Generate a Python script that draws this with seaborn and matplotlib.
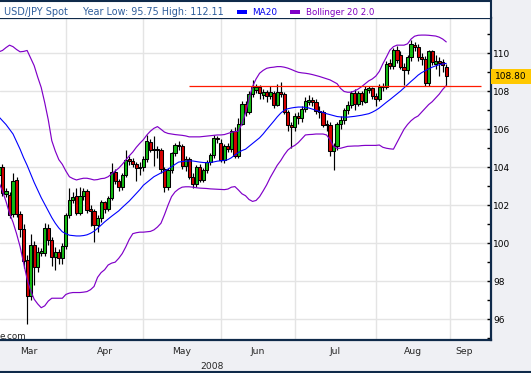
import numpy as np
import pandas as pd
import matplotlib
matplotlib.use('Agg')
import matplotlib.pyplot as plt
import matplotlib.transforms as mtransforms
from matplotlib.patches import Rectangle
from matplotlib.lines import Line2D
import seaborn as sns

# USD/JPY daily candles, weekdays 5 Mar - 29 Aug 2008
dates = pd.bdate_range('2008-03-05', '2008-08-29')

# each list grouped by month: Mar | Apr | May | Jun | Jul | Aug
open_ = [103.6, 104.0, 102.6, 102.55, 101.55, 103.35, 101.55, 100.75, 99.1, 97.2, 99.9, 98.75, 99.5, 99.5, 100.8, 100.15, 99.25, 99.55, 99.2,
         99.85, 101.5, 102.3, 102.5, 101.6, 102.5, 102.75, 101.8, 101.7, 100.95, 101.3, 102.15, 101.8, 102.4, 103.75, 103.25, 102.95, 103.6, 104.4, 104.35, 104.15, 103.95,
         104.0, 104.42, 105.35, 104.9, 104.95, 104.9, 103.9, 102.95, 103.85, 104.75, 105.15, 105.1, 104.05, 104.45, 103.5, 103.1, 104.0, 103.35, 103.85, 104.3, 104.65, 105.55,
         105.3, 104.4, 105.1, 104.95, 105.9, 104.6, 106.3, 107.35, 106.9, 107.85, 108.05, 108.25, 107.8, 107.95, 107.75, 107.9, 107.3, 107.95, 107.85, 106.9, 106.2,
         106.1, 106.7, 106.6, 107.05, 107.45, 107.55, 107.45, 106.95, 106.9, 106.3, 106.25, 104.85, 105.1, 106.3, 106.5, 107.0, 107.3, 107.9, 107.35, 107.9, 107.45, 108.05, 108.15,
         107.75, 107.6, 108.2, 108.25, 109.5, 109.35, 110.15, 109.9, 109.3, 109.1, 109.8, 110.45, 110.35, 109.8, 109.7, 108.45, 110.1, 109.45, 109.6, 109.55, 109.3]
high = [104.3, 104.15, 102.9, 102.7, 103.7, 103.5, 101.7, 101.0, 99.4, 100.5, 100.1, 99.8, 99.75, 101.05, 101.0, 100.3, 99.8, 99.7, 100.0,
        101.6, 102.9, 102.7, 102.9, 102.95, 102.9, 102.85, 102.0, 101.8, 101.5, 102.3, 102.2, 102.5, 104.2, 103.9, 103.4, 103.7, 104.9, 104.6, 104.5, 104.3, 104.3,
        104.6, 105.7, 105.5, 105.65, 105.1, 105.0, 104.0, 103.95, 104.8, 105.3, 105.4, 105.2, 104.6, 104.55, 103.7, 104.1, 104.15, 103.95, 104.4, 104.75, 105.7, 105.65,
        105.5, 105.2, 105.3, 106.0, 106.1, 106.6, 107.5, 107.5, 108.0, 108.6, 108.4, 108.35, 108.1, 108.05, 108.3, 108.0, 108.4, 108.5, 107.95, 107.0, 106.4,
        106.85, 106.9, 107.2, 107.7, 107.8, 107.7, 107.6, 107.2, 107.0, 106.5, 106.4, 105.3, 106.4, 106.7, 107.1, 107.5, 108.0, 108.1, 108.0, 108.0, 108.3, 108.3, 108.25,
        107.9, 108.4, 108.45, 109.6, 109.7, 110.3, 110.4, 110.1, 109.5, 109.9, 110.7, 110.6, 110.5, 110.0, 109.85, 110.2, 110.2, 109.9, 109.8, 109.7, 109.45]
low = [103.3, 102.5, 102.45, 101.3, 101.4, 101.4, 100.3, 98.7, 95.75, 97.0, 97.8, 98.5, 99.3, 99.3, 99.9, 98.8, 98.6, 98.9, 98.9,
       99.7, 101.3, 102.1, 101.5, 101.5, 102.3, 101.6, 100.9, 100.05, 100.6, 101.1, 101.6, 101.7, 102.3, 103.1, 102.75, 102.8, 103.5, 104.1, 104.0, 103.25, 103.6,
       103.8, 104.3, 104.8, 104.05, 104.5, 103.7, 102.7, 102.8, 103.7, 104.6, 104.9, 103.9, 103.8, 103.4, 102.9, 102.95, 103.2, 103.2, 103.7, 104.1, 104.5, 105.3,
       104.3, 104.2, 104.8, 104.8, 104.5, 104.5, 106.2, 106.7, 106.8, 107.7, 107.9, 107.6, 107.6, 107.45, 107.6, 107.1, 107.2, 107.7, 106.8, 105.9, 105.0,
       105.9, 106.3, 106.4, 106.9, 107.3, 107.2, 106.8, 106.6, 106.1, 105.9, 104.6, 103.85, 104.9, 106.0, 106.3, 106.8, 107.1, 107.0, 107.2, 107.3, 107.4, 107.9, 107.6,
       107.2, 107.5, 108.0, 108.1, 109.2, 109.2, 109.5, 109.2, 108.35, 108.9, 109.6, 110.1, 109.6, 109.4, 108.3, 108.3, 109.4, 109.2, 108.8, 109.0, 108.3]
close = [104.0, 102.65, 102.75, 101.5, 103.3, 101.55, 100.75, 99.05, 97.2, 99.9, 98.75, 99.55, 99.6, 100.8, 100.15, 99.25, 99.55, 99.2, 99.85,
         101.5, 102.3, 102.45, 101.6, 102.5, 102.75, 101.75, 101.7, 100.95, 101.3, 102.15, 101.8, 102.4, 103.75, 103.25, 102.95, 103.6, 104.4, 104.35, 104.15, 103.95, 104.0,
         104.42, 105.4, 104.9, 104.95, 104.9, 103.9, 102.95, 103.85, 104.75, 105.15, 105.1, 104.05, 104.45, 103.5, 103.1, 104.0, 103.35, 103.85, 104.3, 104.65, 105.55, 105.5,
         104.4, 105.1, 104.95, 105.9, 104.6, 106.3, 107.35, 106.9, 107.85, 108.2, 108.25, 107.9, 107.95, 107.75, 107.95, 107.3, 107.95, 107.85, 106.9, 106.2, 106.1,
         106.7, 106.6, 107.05, 107.5, 107.55, 107.45, 106.95, 106.9, 106.25, 106.2, 104.85, 105.1, 106.3, 106.5, 107.0, 107.3, 107.9, 107.35, 107.9, 107.5, 108.1, 108.15, 107.75,
         107.6, 108.25, 108.3, 109.45, 109.35, 110.15, 109.65, 109.3, 109.1, 109.8, 110.5, 110.35, 109.8, 109.7, 108.45, 110.1, 109.55, 109.6, 109.5, 109.4, 108.8]
ma20 = [106.65, 106.45, 106.25, 106.0, 105.75, 105.35, 104.95, 104.5, 104.1, 103.65, 103.2, 102.8, 102.4, 102.05, 101.7, 101.35, 101.05, 100.8, 100.6,
        100.5, 100.42, 100.4, 100.38, 100.38, 100.4, 100.44, 100.52, 100.63, 100.78, 100.95, 101.12, 101.27, 101.42, 101.56, 101.7, 101.88, 102.05, 102.22, 102.42, 102.62, 102.82,
        103.05, 103.2, 103.35, 103.5, 103.6, 103.7, 103.8, 103.9, 104.02, 104.15, 104.27, 104.3, 104.32, 104.33, 104.33, 104.3, 104.27, 104.25, 104.24, 104.25, 104.28, 104.32,
        104.34, 104.36, 104.4, 104.5, 104.65, 104.78, 104.88, 104.95, 105.1, 105.25, 105.4, 105.55, 105.75, 105.98, 106.2, 106.42, 106.65, 106.85, 107.0, 107.08, 107.12,
        107.15, 107.17, 107.17, 107.15, 107.12, 107.06, 107.0, 106.94, 106.88, 106.82, 106.77, 106.72, 106.67, 106.65, 106.64, 106.64, 106.66, 106.68, 106.71, 106.74, 106.78, 106.82, 106.9,
        107.0, 107.12, 107.27, 107.42, 107.56, 107.71, 107.86, 108.01, 108.18, 108.35, 108.52, 108.68, 108.85, 108.98, 109.08, 109.18, 109.27, 109.34, 109.4, 109.44, 109.47]
bb_upper = [110.08, 110.15, 110.3, 110.43, 110.35, 110.2, 110.08, 110.1, 110.15, 109.75, 109.35, 108.75, 108.2, 107.4, 106.5, 105.4, 104.85, 104.4, 104.15,
            103.8, 103.5, 103.4, 103.33, 103.38, 103.42, 103.42, 103.38, 103.33, 103.35, 103.4, 103.42, 103.5, 103.65, 103.8, 103.95, 104.15, 104.38, 104.6, 104.8, 105.05, 105.26,
            105.45, 105.7, 105.9, 106.05, 106.14, 106.0, 105.85, 105.78, 105.75, 105.72, 105.7, 105.68, 105.65, 105.6, 105.6, 105.6, 105.6, 105.62, 105.64, 105.66, 105.68, 105.7,
            105.7, 105.72, 105.78, 105.84, 105.88, 105.9, 106.3, 106.86, 107.6, 108.25, 108.65, 108.95, 109.1, 109.21, 109.25, 109.27, 109.3, 109.3, 109.27, 109.22, 109.15,
            109.07, 109.0, 108.97, 108.95, 108.92, 108.88, 108.83, 108.78, 108.72, 108.66, 108.6, 108.5, 108.4, 108.15, 107.99, 107.95, 107.95, 108.02, 108.12, 108.25, 108.4, 108.55, 108.65,
            108.8, 109.05, 109.45, 109.8, 110.17, 110.35, 110.43, 110.43, 110.43, 110.5, 110.75, 110.9, 110.95, 110.96, 110.96, 110.95, 110.93, 110.91, 110.85, 110.75, 110.6]
bb_lower = [103.2, 102.75, 102.2, 101.57, 101.1, 100.5, 99.82, 98.95, 98.1, 97.5, 97.05, 96.8, 96.6, 96.7, 96.95, 97.1, 97.1, 97.1, 97.1,
            97.3, 97.37, 97.4, 97.4, 97.4, 97.42, 97.45, 97.55, 97.72, 98.2, 98.45, 98.6, 98.85, 98.95, 99.0, 99.2, 99.45, 99.8, 100.2, 100.5, 100.55, 100.58,
            100.58, 100.6, 100.62, 100.7, 100.85, 101.05, 101.5, 102.0, 102.45, 102.7, 102.85, 102.95, 102.97, 102.97, 102.95, 102.92, 102.9, 102.89, 102.88, 102.86, 102.85, 102.84,
            102.83, 102.82, 102.85, 102.95, 102.98, 102.8, 102.6, 102.5, 102.3, 102.2, 102.25, 102.45, 102.75, 103.07, 103.45, 103.77, 104.1, 104.35, 104.65, 104.9, 105.05,
            105.15, 105.3, 105.5, 105.7, 105.72, 105.73, 105.75, 105.75, 105.75, 105.7, 105.45, 105.1, 105.0, 105.0, 105.05, 105.1, 105.11, 105.12, 105.12, 105.14, 105.15, 105.15, 105.15,
            105.15, 105.17, 105.05, 105.0, 104.97, 104.95, 105.3, 105.64, 106.0, 106.25, 106.45, 106.6, 106.7, 106.9, 107.1, 107.3, 107.45, 107.65, 107.85, 108.1, 108.3]

month_names = ['Mar', 'Apr', 'May', 'Jun', 'Jul', 'Aug', 'Sep']
y_ticks = [96, 98, 100, 102, 104, 106, 108, 110]
support_level = 108.29
support_from, support_to = '2008-05-20', '2008-09-12'

for name, arr in [('open', open_), ('high', high), ('low', low), ('close', close),
                  ('ma20', ma20), ('upper', bb_upper), ('lower', bb_lower)]:
    assert len(arr) == len(dates), (name, len(arr), len(dates))

# x axis = trading-day counter from 3 Mar 2008
start = pd.Timestamp('2008-03-03')
def bpos(d):
    return len(pd.bdate_range(start, d)) - 1

df = pd.DataFrame({'date': dates, 'open': open_, 'high': high, 'low': low, 'close': close,
                   'ma20': ma20, 'upper': bb_upper, 'lower': bb_lower})
df['pos'] = np.arange(len(df)) + bpos(dates[0])

sns.set_style('white')
plt.rcParams['font.family'] = ['DejaVu Sans']

navy = '#0f2a4a'
W, H = 531, 373
fig = plt.figure(figsize=(W / 100, H / 100), dpi=100, facecolor='#eff0f4')
ax = fig.add_axes([0, 1 - 340 / H, 491 / W, (340 - 18) / H])
ax.set_facecolor('white')

# candles
up = df['close'] >= df['open']
body_lo = df[['open', 'close']].min(axis=1)
body_h = (df['close'] - df['open']).abs().clip(lower=0.06)
ax.vlines(df['pos'], df['low'], df['high'], color='black', lw=0.85, zorder=2)
ax.bar(df['pos'], body_h, bottom=body_lo, width=0.9,
       color=np.where(up, '#12bb12', '#d60000'), edgecolor='black', linewidth=0.75, zorder=3)

# indicators
sns.lineplot(data=df, x='pos', y='ma20', color='#0000ff', lw=0.8, ax=ax, zorder=4)
sns.lineplot(data=df, x='pos', y='upper', color='#8000c8', lw=0.85, ax=ax, zorder=4)
sns.lineplot(data=df, x='pos', y='lower', color='#8000c8', lw=0.85, ax=ax, zorder=4)
ax.hlines(support_level, bpos(support_from), bpos(support_to), color='#ff1a00', lw=0.9, zorder=5)

ax.set_xlim(2.3, 141.7)
ax.set_ylim(94.9, 111.86)
ax.set_xlabel('')
ax.set_ylabel('')

# y axis on the right
ax.yaxis.tick_right()
ax.set_yticks(y_ticks)
ax.set_yticks(np.arange(95, 112, 2), minor=True)
ax.tick_params(axis='y', which='both', direction='in', length=3, width=1,
               colors='black', labelsize=6.5, pad=1.5)

# month ticks and labels
month_starts = [bpos(pd.bdate_range(f'2008-{m:02d}-01', periods=1)[0]) for m in range(3, 10)]
ax.set_xticks(month_starts[1:])
ax.set_xticklabels([])
label_pos = [(a + b) / 2 for a, b in zip(month_starts[:-1], month_starts[1:])] + [month_starts[-1] + 4]
ax.set_xticks(label_pos, minor=True)
ax.set_xticklabels(month_names, minor=True)
ax.tick_params(axis='x', which='major', direction='out', length=3, width=1, color=navy)
ax.tick_params(axis='x', which='minor', length=0, pad=5.0, labelsize=6.7)

ax.grid(True, which='major', color='#e4e4e4', lw=1.0)
ax.set_axisbelow(True)

ax.spines['left'].set_visible(False)
for side in ['top', 'right', 'bottom']:
    ax.spines[side].set_color(navy)
    ax.spines[side].set_linewidth(1.6)

# last price tag
tr = mtransforms.blended_transform_factory(ax.transAxes, ax.transData)
last = close[-1]
ax.add_patch(Rectangle((1.0, last - 0.4), 40 / 491, 0.8, transform=tr,
                       fc='#ffc800', ec='none', clip_on=False, zorder=6))
ax.text(1.0 + 20 / 491, last, f'{last:.2f}', transform=tr, ha='center', va='center',
        fontsize=6.5, color='black', zorder=7)

# header strip
fig.patches.append(Rectangle((0, 1 - 18 / H), 490 / W, 18 / H, transform=fig.transFigure,
                             fc='white', ec='none', zorder=0))
fig.lines.append(Line2D([0, 491 / W], [1 - 0.8 / H] * 2, transform=fig.transFigure, color=navy, lw=1.5))
fig.lines.append(Line2D([490.5 / W] * 2, [1 - 18 / H, 1], transform=fig.transFigure, color=navy, lw=1.5))
fig.lines.append(Line2D([0, 1], [1 - 371.5 / H] * 2, transform=fig.transFigure, color=navy, lw=1.5))

title_col = '#2f5e9c'
fig.text(4 / W, 1 - 15 / H, 'USD/JPY Spot', fontsize=7.0, color=title_col, va='baseline')
fig.text(83 / W, 1 - 15 / H, 'Year Low: 95.75 High: 112.11', fontsize=6.9, color=title_col, va='baseline')
fig.patches.append(Rectangle((237 / W, 1 - 14 / H), 10 / W, 3.5 / H, transform=fig.transFigure,
                             fc='#0000ff', ec='none'))
fig.text(252 / W, 1 - 15 / H, 'MA20', fontsize=6.4, color='#0000ee', va='baseline')
fig.patches.append(Rectangle((290 / W, 1 - 14 / H), 10 / W, 3.5 / H, transform=fig.transFigure,
                             fc='#8000c8', ec='none'))
fig.text(306 / W, 1 - 15 / H, 'Bollinger 20 2.0', fontsize=6.2, color='#8000c0', va='baseline')

fig.text(212 / W, 1 - 369 / H, '2008', fontsize=6.6, ha='center', va='baseline')
fig.text(0, 1 - 339 / H, 'e.com', fontsize=6.3, color='#222222', va='baseline')

fig.savefig('out.png', dpi=100, facecolor=fig.get_facecolor())
